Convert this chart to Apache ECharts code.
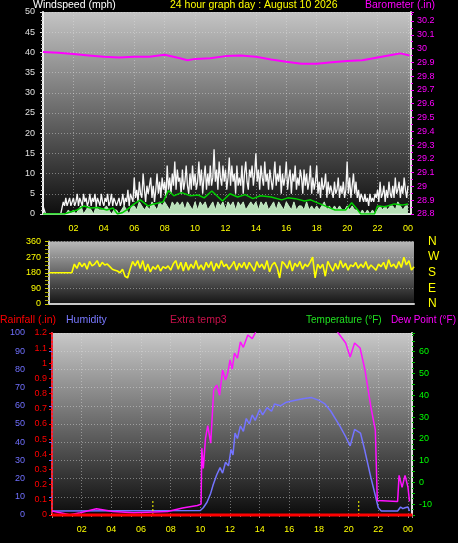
<!DOCTYPE html>
<html>
<head>
<meta charset="utf-8">
<script src="https://cdn.jsdelivr.net/npm/echarts@6/dist/echarts.min.js"></script>
<style>html,body{margin:0;padding:0;background:#000;}#c{width:458px;height:543px;}</style>
</head>
<body>
<div id="c"></div>
<script>
// ---------- DATA ----------
const hourTicks = ['02','04','06','08','10','12','14','16','18','20','22','00'];
const dirLabels = {0:'N',90:'E',180:'S',270:'W',360:'N'};

// 5-minute samples, 00:00 .. 24:00
const windGust = [
 2,1,0,0,0,0,0,0,0,0,0,0,  0,0,0,0,3,2,4,2,3,4,2,3,  4,2,3,5,2,4,3,2,5,3,4,2,
 3,5,2,4,3,5,2,4,3,2,5,3,  2,4,3,5,2,3,5,2,4,3,2,3,  4,2,3,5,2,4,3,6,2,5,4,3,
 9,4,6,3,8,5,4,10,6,3,7,5,  5,9,4,7,3,6,10,5,8,4,9,6,  8,4,12,6,9,5,10,7,13,6,11,8,
 9,5,11,6,8,12,7,5,10,6,12,7,  10,6,8,13,7,11,5,9,12,6,10,7,  12,7,9,16,8,11,6,13,9,7,12,8,
 11,6,9,14,7,12,8,10,5,12,7,9,  7,12,5,10,13,8,6,11,9,12,7,10,  15,8,11,6,12,9,7,13,8,10,6,11,
 11,6,9,13,7,10,8,12,5,10,7,9,  13,6,9,11,5,10,8,12,6,9,7,11,  9,5,11,7,10,6,8,12,5,9,6,8,
 12,5,8,4,9,6,7,10,4,8,5,7,  7,4,8,5,6,9,4,7,5,8,4,6,  13,5,9,4,7,10,5,8,4,6,3,5,
 4,3,5,3,4,2,5,3,4,3,5,4,  6,3,8,4,5,7,3,6,4,8,5,4,  7,4,9,5,6,8,4,7,5,9,6,4,  7];
// 10-minute samples, 00:00 .. 24:00
const windSpeed = [
 0,0,0,0,0,0, 0,0,0,0,1,0, 1,0,1,2,0,1, 2,1,0,2,1,1, 1,2,1,0,1,1, 0,1,2,1,0,2,
 2,1,3,2,1,2, 1,3,2,1,3,2, 3,2,1,3,2,3, 2,3,1,3,2,1, 3,1,3,2,3,1, 2,3,1,3,2,3,
 1,3,2,3,1,3, 2,3,1,2,3,2, 3,1,3,2,3,1, 2,3,1,3,2,1, 3,2,1,3,1,2, 2,1,3,1,2,1,
 2,1,2,3,1,2, 1,2,1,2,1,1, 2,1,2,1,1,0, 1,0,1,0,1,0, 1,2,1,2,1,2, 2,1,3,2,1,2, 2];
const windAvg = [[0,0],[1.4,0],[1.8,0.5],[2.25,1],[2.7,2],[3.1,1.5],[3.6,1.6],[4.2,1],[4.6,1.5],[4.9,0],[5.2,0.3],[5.5,1],[6,2.5],[6.4,3.5],[6.9,2],[7.3,2.5],[7.9,3],[8.25,5.8],[8.6,4.5],[9.1,5.3],[9.7,4.5],[10.2,4.7],[10.6,4],[11.1,5.7],[11.8,3.2],[12.3,5],[12.8,4.2],[13.3,4.8],[13.8,3.8],[14.3,4.5],[15,4.2],[15.7,3.5],[16.1,4],[16.6,3.8],[17.2,3.2],[17.6,3.5],[18.1,2.7],[18.75,1.7],[19.2,1],[19.9,1],[20.3,2.8],[20.7,1],[20.9,0],[21.8,0],[22,2],[22.5,1.8],[23.1,2.5],[23.6,2.2],[24,2.5]];
const barometer = [[0,29.975],[1,29.97],[2,29.96],[3,29.95],[4,29.94],[5,29.935],[6,29.94],[7,29.94],[8,29.955],[9,29.93],[9.5,29.915],[10,29.925],[11,29.93],[12,29.945],[13,29.95],[14,29.94],[15,29.92],[16,29.905],[17,29.89],[18,29.89],[19,29.9],[20,29.91],[21,29.915],[22,29.935],[23,29.955],[23.5,29.965],[24.1,29.95]];
const windDir = [
 180,180,180,180,180,180, 180,180,180,180,230,205, 240,215,235,200,245,220, 230,250,215,240,225,230,
 215,200,195,190,180,200, 160,150,200,245,220,250, 205,250,190,230,185,215, 200,225,190,215,205,220,
 195,230,250,200,240,190, 240,195,230,205,250,200, 225,195,240,210,245,190, 235,205,250,215,230,200,
 220,245,195,235,210,240, 200,240,215,190,245,210, 230,200,250,185,225,240, 210,150,245,230,205,250,
 190,235,215,245,200,230, 215,240,270,150,230,205, 230,160,245,215,190,235, 200,250,210,235,195,225,
 215,240,205,230,210,245, 200,225,210,195,230,215, 240,200,255,215,230,205, 245,210,270,225,250,195, 215];
const rainfall = [[0,0],[24.3,0]];
const humidity = [[0,2.2],[10,2.5],[10.2,4],[10.45,7],[10.7,12],[10.86,16.5],[11.1,22],[11.33,26],[11.5,23],[11.7,29],[11.9,27],[12.07,36],[12.2,33],[12.34,45],[12.5,42],[12.7,49],[12.9,46],[13.1,53],[13.3,50],[13.5,55],[13.7,52],[14,58],[14.2,55],[14.5,59],[14.8,57],[15,61],[15.4,60],[15.8,62],[16.4,63],[17,64],[17.5,64.5],[18,63],[18.4,61],[18.8,57],[19.1,53],[19.4,49],[19.8,43],[20.1,38],[20.4,47],[20.8,45],[21.1,35],[21.5,20.5],[22,4],[22.2,2.2],[23.3,2.2],[23.5,4.4],[23.65,3.5],[23.8,4],[24,4.4],[24.1,2.2]];
const dewPoint = [[0,-13.2],[1.2,-14.9],[1.9,-14],[3,-12.1],[4.1,-13.4],[5.5,-14],[7.8,-13.4],[8.8,-11.8],[9.8,-10.6],[10.05,-10],[10.1,15.7],[10.2,6.4],[10.35,20.3],[10.5,26],[10.7,18],[10.9,42.4],[11.1,44.7],[11.3,40],[11.5,51.6],[11.7,47],[11.85,50.2],[12,56.2],[12.15,52],[12.3,59.4],[12.5,57],[12.7,64.5],[12.9,62],[13.2,67.7],[13.5,66],[13.7,68.6],[14,75],[15,82],[16,85],[17,83],[18,80],[19,72],[19.3,68.6],[19.8,64],[20.1,57.6],[20.4,64],[20.77,61.7],[21.1,51.6],[21.5,34.5],[21.8,24],[21.93,-8.3],[22,-8.75],[23.3,-8.75],[23.4,3.2],[23.6,-2.3],[23.8,3.2],[24,-2.3],[24.1,-8.75]];
const sunMarks = [6.8, 20.68];

// ---------- CHART ----------
const FONT = 'Liberation Sans';
const TITLE_FONT = '10.5px ' + FONT;
function grad(top, bottom) {
  return {type:'linear', x:0, y:0, x2:0, y2:1, colorStops:[{offset:0,color:top},{offset:1,color:bottom}]};
}
const dotted = {show:true, lineStyle:{color:'rgba(225,225,225,0.45)', type:[1,2], width:1}};
function hourLabel(v){ if (v===0) return ''; const h = Math.round(v)%24; return hourTicks[(h===0?24:h)/2-1] || ''; }
function sampled(arr, perHour){ return arr.map((v,i)=>[i/perHour, v]); }

const sunData = [];
sunMarks.forEach(h => { sunData.push([h,0],[h,0.1],'-'); });

const chart = echarts.init(document.getElementById('c'), null, {renderer:'canvas'});
chart.setOption({
  backgroundColor:'#000',
  animation:false,
  textStyle:{fontFamily:FONT},
  grid:[
    {left:43, right:47, top:12, bottom:329, show:true, borderWidth:0, backgroundColor:grad('#c4c4c4','#0e0e0e')},
    {left:49, right:44, top:241.5, bottom:239, show:true, borderWidth:0, backgroundColor:grad('#b8b8b8','#141414')},
    {left:52, right:46, top:333, bottom:28, show:true, borderWidth:0, backgroundColor:grad('#c8c8c8','#0c0c0c')}
  ],
  xAxis:[
    {type:'value', gridIndex:0, min:0, max:24.2, interval:2,
     axisLine:{show:true, lineStyle:{color:'#e8e8e8', width:2}}, axisTick:{show:false},
     axisLabel:{color:'#ffff00', fontSize:9, fontFamily:FONT, margin:10, formatter:hourLabel, showMaxLabel:false},
     splitLine:dotted},
    {type:'value', gridIndex:1, min:0, max:24, interval:2,
     axisLine:{show:true, lineStyle:{color:'#c8c8c8', width:2}}, axisTick:{show:false}, axisLabel:{show:false},
     splitLine:{show:false}},
    {type:'value', gridIndex:2, min:0, max:24.27, interval:2,
     axisLine:{show:true, lineStyle:{color:'#d8d8d8', width:2}},
     axisTick:{show:true, length:3, lineStyle:{color:'#999'}},
     minorTick:{show:true, splitNumber:3, length:2, lineStyle:{color:'#888'}},
     axisLabel:{color:'#ffff00', fontSize:9, fontFamily:FONT, margin:10, formatter:hourLabel, showMaxLabel:false},
     splitLine:dotted}
  ],
  yAxis:[
    {type:'value', gridIndex:0, position:'left', min:0, max:50, interval:5,
     axisLine:{show:true, lineStyle:{color:'#f0f0f0', width:2}},
     axisTick:{show:true, length:3, lineStyle:{color:'#ddd'}},
     minorTick:{show:true, splitNumber:5, length:2, lineStyle:{color:'#bbb'}},
     axisLabel:{color:'#e0e0e0', fontSize:9, fontFamily:FONT, margin:8},
     splitLine:dotted},
    {type:'value', gridIndex:0, position:'right', min:28.8, max:30.265, interval:0.1,
     axisLine:{show:true, lineStyle:{color:'#e0e0e0', width:2}},
     axisTick:{show:true, length:3, lineStyle:{color:'#ff00ff'}},
     minorTick:{show:true, splitNumber:2, length:2, lineStyle:{color:'#ff00ff'}},
     axisLabel:{color:'#ff00ff', fontSize:9, fontFamily:FONT, margin:6, showMaxLabel:false,
       formatter:v=>String(Math.round(v*10)/10)},
     splitLine:{show:false}},
    {type:'value', gridIndex:1, position:'left', min:0, max:360, interval:90,
     axisLine:{show:true, lineStyle:{color:'#c8c8c8', width:2}},
     axisTick:{show:true, length:4, lineStyle:{color:'#cccc00'}},
     minorTick:{show:true, splitNumber:4, length:4, lineStyle:{color:'#aaaa00'}},
     axisLabel:{color:'#ffff00', fontSize:9, fontFamily:FONT, margin:8},
     splitLine:dotted},
    {type:'value', gridIndex:1, position:'right', min:0, max:360, interval:90,
     axisLine:{show:false}, axisTick:{show:false}, splitLine:{show:false},
     axisLabel:{color:'#ffff00', fontSize:12, fontFamily:FONT, margin:14, formatter:v=>dirLabels[v]||''}},
    {type:'value', gridIndex:2, position:'left', offset:22, min:0, max:100, interval:10,
     axisLine:{show:true, lineStyle:{color:'#6464ff', width:2}},
     axisTick:{show:true, length:3, lineStyle:{color:'#6464ff'}},
     axisLabel:{color:'#7070ff', fontSize:9, fontFamily:FONT, margin:5},
     splitLine:dotted},
    {type:'value', gridIndex:2, position:'left', min:0, max:1.2, interval:0.1,
     axisLine:{show:true, lineStyle:{color:'#ff2020', width:2, type:[2,2]}},
     axisTick:{show:true, length:3, lineStyle:{color:'#ff0000'}},
     axisLabel:{color:'#ff0000', fontSize:9, fontFamily:FONT, margin:5,
       formatter:v=>String(Math.round(v*10)/10)},
     splitLine:{show:false}},
    {type:'value', gridIndex:2, position:'right', min:-15, max:68.6, interval:5,
     axisLine:{show:true, lineStyle:{color:'#e0e0e0', width:2}},
     axisTick:{show:true, length:3, lineStyle:{color:'#00c000'}},
     minorTick:{show:true, splitNumber:2, length:2, lineStyle:{color:'#00a000'}},
     axisLabel:{color:'#00ff00', fontSize:9, fontFamily:FONT, margin:7, showMaxLabel:false,
       formatter:v=>(Math.round(v)%10===0 ? String(Math.round(v)) : '')},
     splitLine:{show:false}}
  ],
  series:[
    {name:'Wind gust', type:'line', xAxisIndex:0, yAxisIndex:0, data:sampled(windGust,12), symbol:'none',
     lineStyle:{color:'#f6f6f6', width:1.3}},
    {name:'Wind speed', type:'line', xAxisIndex:0, yAxisIndex:0, data:sampled(windSpeed,6), symbol:'none',
     lineStyle:{color:'#c8f0c8', width:1}, areaStyle:{color:'#c2ecc2', opacity:0.95}},
    {name:'Wind avg', type:'line', xAxisIndex:0, yAxisIndex:0, data:windAvg, symbol:'none',
     lineStyle:{color:'#00d000', width:1.5}},
    {name:'Barometer', type:'line', xAxisIndex:0, yAxisIndex:1, data:barometer, symbol:'none',
     lineStyle:{color:'#ff00ff', width:2}},
    {name:'Wind direction', type:'line', xAxisIndex:1, yAxisIndex:2, data:sampled(windDir,6), symbol:'none',
     lineStyle:{color:'#ffff00', width:1.6}},
    {name:'Humidity', type:'line', xAxisIndex:2, yAxisIndex:4, data:humidity, symbol:'none',
     lineStyle:{color:'#7474ff', width:1.5}},
    {name:'Dew Point', type:'line', xAxisIndex:2, yAxisIndex:6, data:dewPoint, symbol:'none',
     lineStyle:{color:'#ff10ff', width:1.5}},
    {name:'Sun', type:'line', xAxisIndex:2, yAxisIndex:5, data:sunData, symbol:'none', connectNulls:false,
     lineStyle:{color:'#ffff00', width:1, type:[2,2]}},
    {name:'Rainfall', type:'line', xAxisIndex:2, yAxisIndex:5, data:rainfall, symbol:'none', clip:false,
     lineStyle:{color:'#ff0000', width:3}}
  ],
  graphic:[
    {type:'text', left:33, top:0, style:{text:'Windspeed (mph)', fill:'#ffffff', font:TITLE_FONT}},
    {type:'text', left:170, top:0, style:{text:'24 hour graph day : August 10 2026', fill:'#ffff00', font:TITLE_FONT}},
    {type:'text', left:365, top:0, style:{text:'Barometer (.in)', fill:'#ff00ff', font:TITLE_FONT}},
    {type:'text', left:0, top:315, style:{text:'Rainfall (.in)', fill:'#ff0000', font:TITLE_FONT}},
    {type:'text', left:66, top:315, style:{text:'Humidity', fill:'#7878ff', font:TITLE_FONT}},
    {type:'text', left:170, top:315, style:{text:'Extra temp3', fill:'#c8104a', font:TITLE_FONT}},
    {type:'text', left:306, top:315, style:{text:'Temperature (°F)', fill:'#20e020', font:'10px '+FONT}},
    {type:'text', right:2, top:315, style:{text:'Dew Point (°F)', fill:'#ff00ff', font:'10px '+FONT}}
  ]
});
</script>
</body>
</html>
